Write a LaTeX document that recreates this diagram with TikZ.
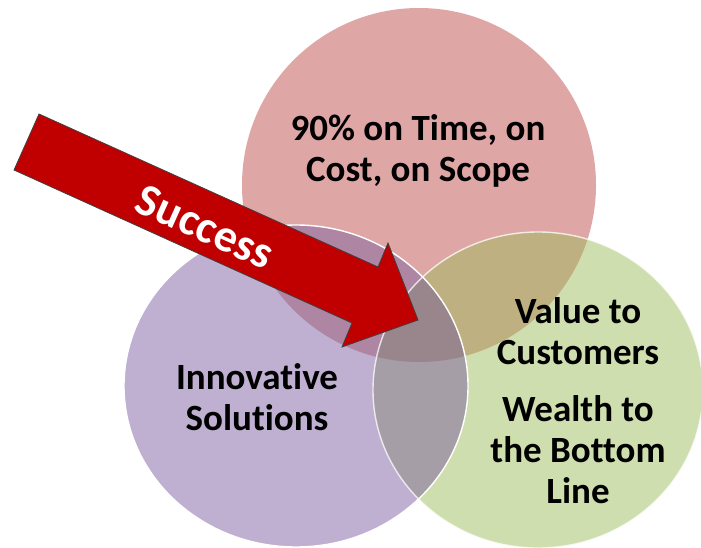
\documentclass[tikz,border=0pt]{standalone}
\usepackage{fontspec}
\setmainfont[Ligatures={NoCommon,NoContextual}]{Carlito}
\begin{document}
\begin{tikzpicture}[x=1pt,y=-1pt,
  lbl/.style={font=\bfseries\fontsize{37}{41}\selectfont, text=black, align=center, inner sep=0pt},
  ring/.style={draw=white, line width=1.4pt}]
\definecolor{redc}{RGB}{223,166,166}
\definecolor{purc}{RGB}{191,176,209}
\definecolor{grnc}{RGB}{207,222,174}
\definecolor{rpc}{RGB}{174,134,163}
\definecolor{rgc}{RGB}{190,176,128}
\definecolor{pgc}{RGB}{165,158,166}
\definecolor{rpgc}{RGB}{153,134,140}
\definecolor{arrowc}{RGB}{192,0,0}
\useasboundingbox[fill=white] (0,0) rectangle (701,548);
\def\Rpath{(419,185) ellipse [x radius=177pt, y radius=177pt]}
\def\Ppath{(296,386) ellipse [x radius=172pt, y radius=161pt]}
\def\Gpath{(538,390) ellipse [x radius=165pt, y radius=158pt]}
% base discs
\fill[redc] \Rpath;
\fill[purc] \Ppath;
\fill[grnc] \Gpath;
% pairwise overlaps
\begin{scope}
  \clip \Rpath;
  \fill[rpc] \Ppath;
  \fill[rgc] \Gpath;
\end{scope}
\begin{scope}
  \clip \Ppath;
  \fill[pgc] \Gpath;
\end{scope}
\begin{scope}
  \clip \Rpath;
  \clip \Ppath;
  \fill[rpgc] \Gpath;
\end{scope}
% white rims
\draw[ring] \Ppath;
\draw[ring, draw opacity=0.75] \Gpath;
% labels
\node[lbl] (scope) at (418,151) {90\% on Time, on\\Cost, on Scope};
\node[lbl] (innov) at (257,397) {Innova{}tive\\Solu{}tions};
\node[lbl] (value) at (578,401) {Value to\\Customers\\[16pt]Wealth to\\the Bottom\\Line};
% arrow
\coordinate (t1) at (39,114);
\coordinate (s1) at (378,267);
\coordinate (b1) at (388,243);
\coordinate (tip) at (418,320);
\coordinate (b2) at (342,347);
\coordinate (s2) at (352,323);
\coordinate (t2) at (14,170);
\draw[fill=arrowc, draw=black!75, line width=0.8pt, line join=miter]
  (t1) -- (s1) -- (b1) -- (tip) -- (b2) -- (s2) -- (t2) -- cycle;
\node[font=\bfseries\fontsize{46}{50}\selectfont, text=white, rotate=-24.3, inner sep=0pt] (success) at (205,227) {Success};
\end{tikzpicture}
\end{document}
